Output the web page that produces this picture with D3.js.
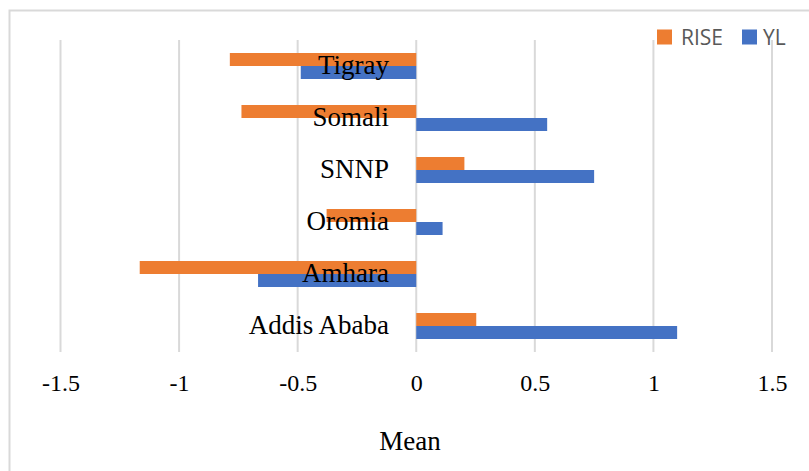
<!DOCTYPE html>
<html>
<head>
<meta charset="utf-8">
<script src="https://cdn.jsdelivr.net/npm/d3@7"></script>
<style>
  html, body { margin: 0; padding: 0; background: #fff; }
  svg { display: block; }
  .serif { font-family: 'Liberation Serif', 'Times New Roman', serif; }
</style>
</head>
<body>
<svg id="chart" width="809" height="471"></svg>
<script>
const categories = ["Tigray", "Somali", "SNNP", "Oromia", "Amhara", "Addis Ababa"];
const seriesNames = ["RISE", "YL"];
const riseValues = [-0.786, -0.737, 0.203, -0.378, -1.166, 0.253];
const ylValues = [-0.487, 0.552, 0.75, 0.111, -0.667, 1.10];
const xTicks = [-1.5, -1, -0.5, 0, 0.5, 1, 1.5];
const tickLabels = ["-1.5", "-1", "-0.5", "0", "0.5", "1", "1.5"];
const axisTitle = "Mean";
const colors = { RISE: "#ED7D31", YL: "#4472C4" };

const svg = d3.select("#chart");
const plotTop = 40, plotBottom = 352;
const serifFont = "'Liberation Serif', 'Times New Roman', serif";

// chart border
svg.append("rect")
  .attr("x", 9.5).attr("y", 10.5)
  .attr("width", 830).attr("height", 520)
  .attr("fill", "none").attr("stroke", "#d9d9d9").attr("stroke-width", 2);

const x = d3.scaleLinear().domain([-1.5, 1.5]).range([60.5, 772]);
const y0 = d3.scaleBand().domain(categories).range([plotTop, plotBottom])
  .paddingInner(0.5).paddingOuter(0.25);
const y1 = d3.scaleBand().domain(seriesNames).range([0, y0.bandwidth()]);

// gridlines
svg.append("g").selectAll("line").data(xTicks).join("line")
  .attr("x1", d => x(d)).attr("x2", d => x(d))
  .attr("y1", plotTop).attr("y2", plotBottom)
  .attr("stroke", "#d9d9d9").attr("stroke-width", 2);

// bars
const rows = categories.map((c, i) => ({ cat: c, vals: [
  { s: "RISE", v: riseValues[i] }, { s: "YL", v: ylValues[i] }] }));

svg.append("g").selectAll("g").data(rows).join("g")
  .attr("transform", d => `translate(0,${y0(d.cat)})`)
  .selectAll("rect").data(d => d.vals).join("rect")
  .attr("x", d => x(Math.min(0, d.v)))
  .attr("width", d => Math.abs(x(d.v) - x(0)))
  .attr("y", d => y1(d.s))
  .attr("height", y1.bandwidth())
  .attr("fill", d => colors[d.s]);

// category labels
svg.append("g").selectAll("text").data(categories).join("text")
  .attr("x", 389)
  .attr("y", d => y0(d) + y0.bandwidth() / 2 + 8)
  .attr("text-anchor", "end")
  .style("font-family", serifFont)
  .style("font-size", "27px")
  .attr("fill", "#000")
  .text(d => d);

// x axis
const xAxis = d3.axisBottom(x).tickValues(xTicks)
  .tickFormat((d, i) => tickLabels[i]).tickSize(0);
const gx = svg.append("g").attr("transform", `translate(0,${plotBottom})`).call(xAxis);
gx.select(".domain").remove();
gx.attr("font-family", null).attr("font-size", null)
  .style("font-family", serifFont).style("font-size", "24px");
gx.selectAll("text")
  .attr("y", 39).attr("dy", 0)
  .style("font-family", serifFont)
  .style("font-size", "24px")
  .attr("fill", "#000");

// axis title
svg.append("text")
  .attr("x", 410).attr("y", 450)
  .attr("text-anchor", "middle")
  .style("font-family", serifFont)
  .style("font-size", "27px")
  .attr("fill", "#000")
  .text(axisTitle);

// legend
const legendItems = [
  { s: "RISE", sx: 657, tx: 681 },
  { s: "YL", sx: 742, tx: 763 }
];
const lg = svg.append("g");
lg.selectAll("rect").data(legendItems).join("rect")
  .attr("x", d => d.sx).attr("y", 29.5)
  .attr("width", 15).attr("height", 15)
  .attr("fill", d => colors[d.s]);
lg.selectAll("text").data(legendItems).join("text")
  .attr("x", d => d.tx).attr("y", 44.5)
  .style("font-family", "'Open Sans', 'Liberation Sans', sans-serif")
  .style("font-size", "21px")
  .attr("fill", "#595959")
  .text(d => d.s);
</script>
</body>
</html>
